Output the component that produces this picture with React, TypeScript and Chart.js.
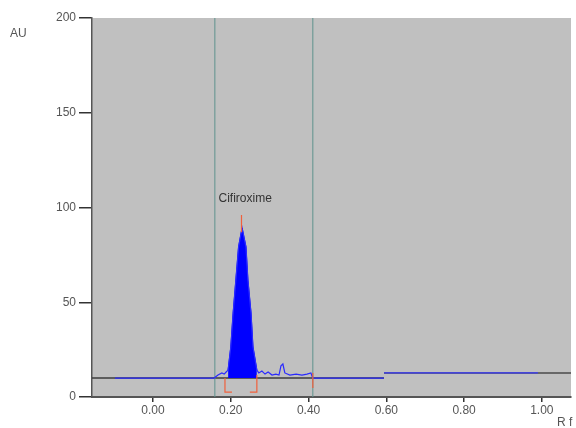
import React, { useEffect, useRef } from "react";
import { Chart, registerables } from "chart.js";

Chart.register(...registerables);

// X axis (Rf) and Y axis (AU) tick values
const xTicks = [0, 0.2, 0.4, 0.6, 0.8, 1.0];
const yTicks = [0, 50, 100, 150, 200];

// Densitogram trace (blue line)
const traceRf = [-0.098, 0.157, 0.167, 0.177, 0.183, 0.188, 0.193, 0.2, 0.206, 0.213, 0.22, 0.229, 0.239, 0.244, 0.252, 0.257, 0.267, 0.272, 0.28, 0.288, 0.296, 0.306, 0.316, 0.324, 0.329, 0.334, 0.339, 0.352, 0.368, 0.383, 0.396, 0.406, 0.411, 0.594];
const traceAU = [10, 10, 11.6, 12.7, 12.1, 13.2, 14.2, 26.4, 44.3, 61.7, 79.2, 89.2, 79.2, 61.7, 44.3, 26.4, 14.2, 12.7, 13.7, 12.1, 13.2, 11.6, 12.1, 11.6, 16.4, 17.4, 12.7, 11.6, 12.1, 11.6, 12.1, 12.7, 10, 10];

// Integrated peak (filled)
const peakRf = [0.193, 0.2, 0.206, 0.213, 0.22, 0.229, 0.239, 0.244, 0.252, 0.257, 0.267];
const peakAU = [14.2, 26.4, 44.3, 61.7, 79.2, 89.2, 79.2, 61.7, 44.3, 26.4, 14.2];
const peakBaseAU = 10;

// Right-hand (second track) trace
const trace2Rf = [0.594, 0.99];
const trace2AU = [12.7, 12.7];

// Dark baselines
const base1Rf = [-0.157, 0.594];
const base1AU = [10, 10];
const base2Rf = [0.594, 1.075];
const base2AU = [12.7, 12.7];

// Track borders (teal verticals)
const borderRf = [0.159, 0.411];

// Red integration markers
const leftMarkRf = [0.185, 0.185, 0.203];
const leftMarkAU = [10, 2.6, 2.6];
const rightMarkRf = [0.249, 0.267, 0.267];
const rightMarkAU = [2.6, 2.6, 11.6];
const endMarkRf = [0.411, 0.411];
const endMarkAU = [12.7, 4.7];
const apexMarkRf = [0.2275, 0.2275];
const apexMarkAU = [96, 87];

const peakName = "Cifiroxime";
const peakLabelRf = 0.237;
const peakLabelAU = 104.5;

const zip = (xs: number[], ys: number[]) => xs.map((x, i) => ({ x, y: ys[i] }));

export default function App() {
  const ref = useRef<HTMLCanvasElement | null>(null);

  useEffect(() => {
    if (!ref.current) return;
    const line = (data: any, color: string, width = 1, extra: any = {}) => ({
      data,
      showLine: true,
      borderColor: color,
      backgroundColor: color,
      borderWidth: width,
      pointRadius: 0,
      tension: 0,
      ...extra,
    });

    const bgPlugin = {
      id: "bg",
      beforeDraw(chart: any) {
        const { ctx, chartArea } = chart;
        ctx.save();
        ctx.fillStyle = "#c0c0c0";
        ctx.fillRect(chartArea.left, chartArea.top, chartArea.right - chartArea.left, chartArea.bottom - chartArea.top);
        ctx.restore();
      },
    };

    const textPlugin = {
      id: "texts",
      afterDraw(chart: any) {
        const { ctx, scales } = chart;
        ctx.save();
        ctx.fillStyle = "#333";
        ctx.font = "12px 'Liberation Sans', Arial, sans-serif";
        ctx.textAlign = "center";
        ctx.textBaseline = "middle";
        ctx.fillText(peakName, scales.x.getPixelForValue(peakLabelRf), scales.y.getPixelForValue(peakLabelAU));
        ctx.fillStyle = "#555";
        ctx.textAlign = "left";
        ctx.fillText("AU", 10, 34);
        ctx.fillText("R f", 557, 423);
        ctx.restore();
      },
    };

    // Dataset 0 is drawn on top in Chart.js, so the order goes top -> bottom.
    const chart = new Chart(ref.current, {
      type: "scatter",
      data: {
        datasets: [
          line(zip(leftMarkRf, leftMarkAU), "#f0603c", 1.2),
          line(zip(rightMarkRf, rightMarkAU), "#f0603c", 1.2),
          line(zip(endMarkRf, endMarkAU), "#f0603c", 1.2),
          line(zip(apexMarkRf, apexMarkAU), "#f0603c", 1.2),
          line(zip(traceRf, traceAU), "#2a2aff", 1.2),
          line(zip(trace2Rf, trace2AU), "#3a3aff", 1.2),
          line(zip(peakRf, peakAU), "#0000ff", 1, { fill: { value: peakBaseAU }, backgroundColor: "#0000ff" }),
          line(zip([borderRf[0], borderRf[0]], [0, 200]), "#5f928d", 1),
          line(zip([borderRf[1], borderRf[1]], [0, 200]), "#5f928d", 1),
          line(zip(base1Rf, base1AU), "#3c3c3c", 1.5),
          line(zip(base2Rf, base2AU), "#4a4a4a", 1.5),
        ],
      },
      options: {
        animation: false,
        responsive: false,
        devicePixelRatio: 1,
        layout: { padding: { left: 0, top: 18, right: 5, bottom: 0 } },
        plugins: { legend: { display: false }, tooltip: { enabled: false } },
        scales: {
          x: {
            type: "linear",
            min: -0.157,
            max: 1.075,
            afterBuildTicks: (s: any) => {
              s.ticks = xTicks.map((v) => ({ value: v }));
            },
            afterFit: (s: any) => {
              s.height = 31;
            },
            border: { display: true, color: "#555", width: 2 },
            grid: { drawOnChartArea: false, tickLength: 5, color: "#333", lineWidth: 1.5 },
            ticks: {
              padding: 1,
              color: "#555",
              font: { size: 12, family: "'Liberation Sans', Arial, sans-serif" },
              maxRotation: 0,
              callback: (v: any) => Number(v).toFixed(2),
            },
          },
          y: {
            type: "linear",
            min: 0,
            max: 200,
            afterBuildTicks: (s: any) => {
              s.ticks = yTicks.map((v) => ({ value: v }));
            },
            afterFit: (s: any) => {
              s.width = 92;
            },
            border: { display: true, color: "#555", width: 1.5 },
            grid: { drawOnChartArea: false, tickLength: 13, color: "#333", lineWidth: 1.5 },
            ticks: {
              padding: 3,
              color: "#555",
              font: { size: 12, family: "'Liberation Sans', Arial, sans-serif" },
            },
          },
        },
      },
      plugins: [bgPlugin, textPlugin],
    } as any);
    return () => chart.destroy();
  }, []);

  return (
    <div style={{ position: "absolute", left: 0, top: 0, width: 576, height: 428, background: "#fff" }}>
      <canvas ref={ref} width={576} height={428} />
    </div>
  );
}
